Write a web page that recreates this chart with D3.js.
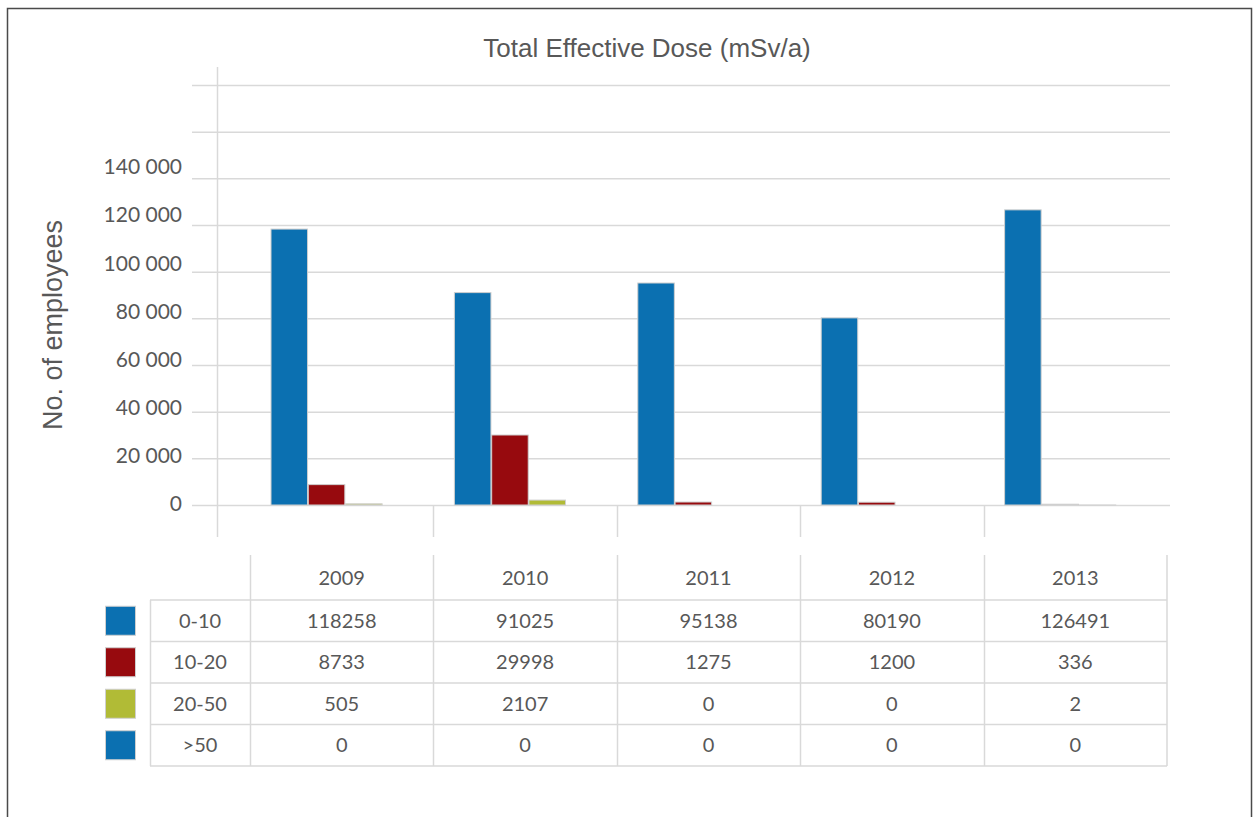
<!DOCTYPE html>
<html>
<head>
<meta charset="utf-8">
<script src="https://cdn.jsdelivr.net/npm/d3@7"></script>
<style>
  body { margin: 0; background: #fff; }
  svg { display: block; }
</style>
</head>
<body>
<svg id="chart" width="1255" height="817"></svg>
<script>
// Employees by total effective dose band (mSv/a), per year
const years = ["2009", "2010", "2011", "2012", "2013"];
const doseBands = ["0-10", "10-20", "20-50", ">50"];
const dose0to10 = [118258, 91025, 95138, 80190, 126491];
const dose10to20 = [8733, 29998, 1275, 1200, 336];
const dose20to50 = [505, 2107, 0, 0, 2];
const doseOver50 = [0, 0, 0, 0, 0];
const yTicks = [0, 20000, 40000, 60000, 80000, 100000, 120000, 140000, 160000, 180000];
const yTickLabels = ["0", "20 000", "40 000", "60 000", "80 000", "100 000", "120 000", "140 000"];
const bandColors = ["#0b70b1", "#970a0e", "#b1bb36", "#0b70b1"];

const seriesValues = [dose0to10, dose10to20, dose20to50, doseOver50];
const series = doseBands.map((band, i) => ({ band, color: bandColors[i], values: seriesValues[i] }));

const textColor = "#585858";
const gridColor = "#d9d9d9";
const tableFont = "Lato, 'Open Sans', sans-serif";
const titleFont = "'Liberation Sans', Arial, sans-serif";

const svg = d3.select("#chart");

// outer frame
svg.append("rect")
  .attr("x", 7.5).attr("y", 8.5)
  .attr("width", 1244).attr("height", 830)
  .attr("fill", "none").attr("stroke", "#4a4a4a").attr("stroke-width", 1.5);

// scales
const x = d3.scaleBand().domain(years).range([250, 1167]);
const xInner = d3.scaleBand().domain(doseBands).range([21, x.bandwidth() - 14]).paddingInner(0.02);
const y = d3.scaleLinear().domain([0, 180000]).range([505, 85]);
const yLabel = d3.scaleLinear().domain([0, 140000]).range([504, 167]);

// title
svg.append("text")
  .attr("x", 647).attr("y", 57)
  .attr("text-anchor", "middle")
  .attr("font-family", titleFont).attr("font-size", 26)
  .attr("fill", textColor)
  .text("Total Effective Dose (mSv/a)");

// y axis title
svg.append("text")
  .attr("transform", "translate(62,325) rotate(-90)")
  .attr("text-anchor", "middle")
  .attr("font-family", titleFont).attr("font-size", 27)
  .attr("fill", textColor)
  .text("No. of employees");

// horizontal gridlines
svg.append("g").selectAll("line").data(yTicks).join("line")
  .attr("x1", 192).attr("x2", 1170)
  .attr("y1", d => y(d) + 0.5).attr("y2", d => y(d) + 0.5)
  .attr("stroke", gridColor).attr("stroke-width", 1.5);

// vertical axis line
svg.append("line")
  .attr("x1", 217.5).attr("x2", 217.5)
  .attr("y1", 67).attr("y2", 537)
  .attr("stroke", gridColor).attr("stroke-width", 1.5);

// category separators below baseline
svg.append("g").selectAll("line").data(years.slice(1)).join("line")
  .attr("x1", d => Math.round(x(d)) + 0.5).attr("x2", d => Math.round(x(d)) + 0.5)
  .attr("y1", 505).attr("y2", 537)
  .attr("stroke", gridColor).attr("stroke-width", 1.5);

// y tick labels
svg.append("g").selectAll("text").data(yTickLabels).join("text")
  .attr("x", 182)
  .attr("y", (d, i) => yLabel(yTicks[i]))
  .attr("dy", "0.35em")
  .attr("text-anchor", "end")
  .attr("font-family", tableFont).attr("font-size", 21)
  .attr("fill", textColor)
  .text(d => d);

// bars
const groups = svg.append("g").selectAll("g").data(years).join("g")
  .attr("transform", d => `translate(${x(d)},0)`);
groups.selectAll("rect")
  .data((yr, yi) => series.map(s => ({ band: s.band, color: s.color, value: s.values[yi] })))
  .join("rect")
  .attr("x", d => xInner(d.band))
  .attr("width", xInner.bandwidth())
  .attr("y", d => y(d.value))
  .attr("height", d => y(0) - y(d.value))
  .attr("fill", d => d.color)
  .attr("stroke", "#cfcfcf").attr("stroke-width", 1);

// data table
const rowY = d3.scaleBand().domain(doseBands).range([600, 766]);
const table = svg.append("g");
const tableLine = (x1, y1, x2, y2) => table.append("line")
  .attr("x1", x1).attr("y1", y1).attr("x2", x2).attr("y2", y2)
  .attr("stroke", gridColor).attr("stroke-width", 1.5);

// horizontal rules
doseBands.forEach(b => tableLine(150, rowY(b), 1167, rowY(b)));
tableLine(150, 766, 1167, 766);
// vertical rules
tableLine(150.5, 600, 150.5, 766);
years.forEach(yr => tableLine(Math.round(x(yr)) + 0.5, 555, Math.round(x(yr)) + 0.5, 766));
tableLine(1167, 555, 1167, 766);

// year headers
table.selectAll("text.year").data(years).join("text")
  .attr("class", "year")
  .attr("x", d => x(d) + x.bandwidth() / 2)
  .attr("y", 578).attr("dy", "0.35em")
  .attr("text-anchor", "middle")
  .attr("font-family", tableFont).attr("font-size", 20)
  .attr("fill", textColor)
  .text(d => d);

// rows: swatch, band label, values
const rows = table.selectAll("g.row").data(series).join("g")
  .attr("class", "row")
  .attr("transform", d => `translate(0,${rowY(d.band) + rowY.bandwidth() / 2})`);
rows.append("rect")
  .attr("x", 105.5).attr("y", -14.5)
  .attr("width", 30).attr("height", 29)
  .attr("fill", d => d.color)
  .attr("stroke", "#cfcfcf").attr("stroke-width", 1);
rows.append("text")
  .attr("x", 200).attr("dy", "0.35em")
  .attr("text-anchor", "middle")
  .attr("font-family", tableFont).attr("font-size", 20)
  .attr("fill", textColor)
  .text(d => d.band);
rows.selectAll("text.val").data(d => d.values).join("text")
  .attr("class", "val")
  .attr("x", (d, i) => x(years[i]) + x.bandwidth() / 2)
  .attr("dy", "0.35em")
  .attr("text-anchor", "middle")
  .attr("font-family", tableFont).attr("font-size", 20)
  .attr("fill", textColor)
  .text(d => d);
</script>
</body>
</html>
